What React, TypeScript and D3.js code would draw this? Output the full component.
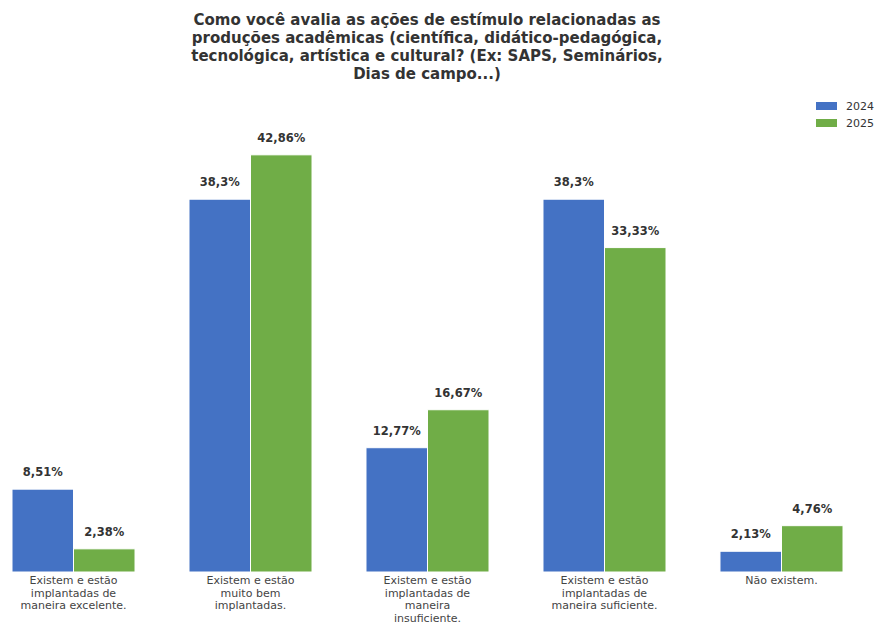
import React from "react";
import * as d3 from "d3";

const categories = [
  ["Existem e estão", "implantadas de", "maneira excelente."],
  ["Existem e estão", "muito bem", "implantadas."],
  ["Existem e estão", "implantadas de", "maneira", "insuficiente."],
  ["Existem e estão", "implantadas de", "maneira suficiente."],
  ["Não existem."],
];
const seriesNames = ["2024", "2025"];
const values2024 = [8.51, 38.3, 12.77, 38.3, 2.13];
const values2025 = [2.38, 42.86, 16.67, 33.33, 4.76];
const colors = ["#4472C4", "#70AD47"];
const titleLines = [
  "Como você avalia as ações de estímulo relacionadas as",
  "produções acadêmicas (científica, didático-pedagógica,",
  "tecnológica, artística e cultural? (Ex: SAPS, Seminários,",
  "Dias de campo...)",
];

const W = 875;
const H = 623;
const FONT = "DejaVu Sans, sans-serif";

const fmt = (v: number) => v.toString().replace(".", ",") + "%";

export default function App() {
  const series = [values2024, values2025];
  const x0 = d3
    .scaleBand<number>()
    .domain(categories.map((_, i) => i))
    .range([12, 843])
    .paddingInner(0.305)
    .paddingOuter(0);
  const x1 = d3
    .scaleBand<number>()
    .domain(seriesNames.map((_, i) => i))
    .range([0, x0.bandwidth()])
    .padding(0);
  const y = d3.scaleLinear().domain([0, 45]).range([572, 134]);

  return (
    <svg
      width={W}
      height={H}
      style={{ position: "absolute", left: 0, top: 0, background: "#fff" }}
      fontFamily={FONT}
    >
      <rect width={W} height={H} fill="#fff" />
      <g>
        {titleLines.map((t, i) => (
          <text
            key={i}
            x={427}
            y={25 + i * 18}
            textAnchor="middle"
            fontSize={15}
            fontWeight="bold"
            fill="#333"
          >
            {t}
          </text>
        ))}
      </g>
      {categories.map((lines, ci) => (
        <g key={ci} transform={`translate(${x0(ci)},0)`}>
          {series.map((vals, si) => {
            const v = vals[ci];
            const bx = x1(si)!;
            const bw = x1.bandwidth();
            return (
              <g key={si}>
                <rect
                  x={bx}
                  y={y(v)}
                  width={bw}
                  height={y(0) - y(v)}
                  fill={colors[si]}
                  stroke="#fff"
                  strokeWidth={1}
                />
                <text
                  x={bx + bw / 2}
                  y={y(v) - 13}
                  textAnchor="middle"
                  fontSize={11.5}
                  fontWeight="bold"
                  fill="#333"
                >
                  {fmt(v)}
                </text>
              </g>
            );
          })}
          {lines.map((l, li) => (
            <text
              key={li}
              x={x0.bandwidth() / 2}
              y={584 + li * 12.5}
              textAnchor="middle"
              fontSize={11}
              fill="#444"
            >
              {l}
            </text>
          ))}
        </g>
      ))}
      <g>
        {seriesNames.map((s, i) => (
          <g key={s} transform={`translate(816,${102 + i * 17})`}>
            <rect width={21} height={8} fill={colors[i]} />
            <text x={30} y={8} fontSize={11} fill="#333">
              {s}
            </text>
          </g>
        ))}
      </g>
    </svg>
  );
}
